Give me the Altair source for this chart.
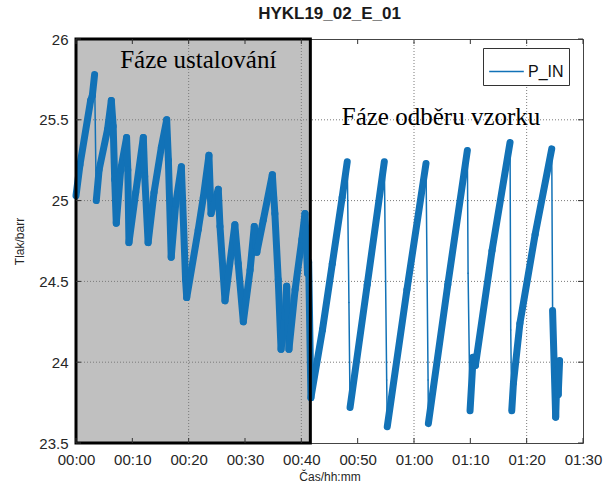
import altair as alt
import pandas as pd

# --- chart text -------------------------------------------------------------
title_text = "HYKL19_02_E_01"
series_name = "P_IN"
x_title = "Čas/hh:mm"
y_title = "Tlak/barr"

# --- P_IN pressure trace: time in minutes, pressure in barr ----------------
minutes = [
    0.0, 0.7, 2.6, 2.9, 3.3, 3.6, 4.1, 5.6, 6.27, 6.6, 6.87, 7.15,
    7.93, 8.98, 9.2, 9.4, 10.6, 11.95, 12.2, 12.8, 13.85, 15.15, 16.1,
    16.4, 16.9, 17.7, 18.7, 19.45, 19.65, 21.7, 22.6, 23.6, 23.97, 25.26,
    25.56, 26.45, 28.2, 28.8, 29.7, 30.9, 31.65, 32.1, 33.25, 34.85,
    35.3, 35.9, 36.4, 37.1, 37.4, 37.8, 38.9, 40.1, 40.65, 41.1, 41.3,
    41.7,
    43.75, 45.5, 47.25, 48.15, 48.45, 48.65,
    51.7, 54.73, 55.15, 55.25,
    58.75, 62.13, 62.5, 62.55,
    66.0, 69.47, 69.6, 69.95, 70.5, 70.9,
    73.85, 77.05, 77.17, 77.35, 77.65,
    78.8, 81.5, 84.45, 84.6, 85.15, 85.4, 85.6, 85.85,
]
pressure = [
    25.03, 25.22, 25.62, 25.65, 25.78, 25.0, 25.19, 25.44, 25.62, 25.46, 25.13, 24.86,
    25.19, 25.39, 25.19, 24.74, 25.05, 25.39, 25.15, 24.74, 25.05, 25.33, 25.50,
    25.25, 24.65, 24.98, 25.21, 24.51, 24.40, 24.82, 25.02, 25.28, 24.92, 25.07,
    24.84, 24.38, 24.85, 24.61, 24.25, 24.57, 24.84, 24.68, 24.88, 25.16,
    24.92, 24.51, 24.08, 24.28, 24.47, 24.08, 24.45, 24.76, 24.92, 24.55, 24.62,
    23.78,
    24.20, 24.61, 25.02, 25.24, 24.37, 23.72,
    24.48, 25.24, 23.89, 23.60,
    24.45, 25.23, 23.89, 23.62,
    24.48, 25.31, 24.55, 23.70, 24.03, 23.98,
    24.69, 25.36, 24.20, 23.70, 23.87,
    24.24, 24.79, 25.32, 24.32, 23.66, 23.95, 23.80, 24.01,
]

# --- axes, grid and phase annotations --------------------------------------
x_ticks = list(range(0, 91, 10))
y_ticks = [23.5, 24.0, 24.5, 25.0, 25.5, 26.0]
grid_minutes = [20, 40, 60, 80]
grid_levels = [24.0, 24.5, 25.0, 25.5]
settling_start = 0.0
settling_end = 41.6
phase_labels = ["Fáze ustalování", "Fáze odběru vzorku"]
phase_label_minutes = [21.7, 64.8]
phase_label_levels = [25.87, 25.52]

W, H = 507, 404
BLUE = "#1272B7"
SANS = "Liberation Sans"

# consecutive samples become segments; steep falls are the thin valve drops
rows = []
for i in range(len(minutes) - 1):
    t1, p1, t2, p2 = minutes[i], pressure[i], minutes[i + 1], pressure[i + 1]
    slope = (p2 - p1) / (t2 - t1)
    rows.append({
        "t": t1, "p": p1, "t2": t2, "p2": p2,
        "kind": "drop" if slope < -2.4 else "band",
        "series": series_name,
    })
segments = pd.DataFrame(rows)

x_scale = alt.Scale(domain=[0, 90], nice=False, zero=False)
y_scale = alt.Scale(domain=[23.5, 26], nice=False, zero=False)

settle = pd.DataFrame({
    "t": [settling_start], "t2": [settling_end],
    "p": [y_ticks[0]], "p2": [y_ticks[-1]],
})

time_label = (
    "(floor(datum.value/60) < 10 ? '0' : '') + floor(datum.value/60) + ':' + "
    "(datum.value % 60 < 10 ? '0' : '') + (datum.value % 60)"
)

x_axis = alt.Axis(
    values=x_ticks, labelExpr=time_label, title=x_title,
    grid=False, domain=False, ticks=False, labelFlush=False, labelOverlap=False,
    labelFont=SANS, labelFontSize=15, labelColor="#262626", labelPadding=9,
    titleFont=SANS, titleFontSize=12, titleFontWeight="normal",
    titleColor="#262626", titlePadding=4,
)
y_axis = alt.Axis(
    values=y_ticks, format="~g", title=y_title,
    grid=False, domain=False, ticks=False, labelFlush=False, labelOverlap=False,
    labelFont=SANS, labelFontSize=15, labelColor="#262626", labelPadding=8,
    titleFont=SANS, titleFontSize=12, titleFontWeight="normal",
    titleColor="#262626", titlePadding=12,
)

shade = alt.Chart(settle).mark_rect(color="#c0c0c0").encode(
    x=alt.X("t:Q", scale=x_scale, axis=x_axis),
    x2="t2:Q",
    y=alt.Y("p:Q", scale=y_scale, axis=y_axis),
    y2="p2:Q",
)

vgrid = alt.Chart(pd.DataFrame({"t": grid_minutes})).mark_rule(
    color="#7a7a7a", strokeDash=[1, 2], strokeWidth=1
).encode(x=alt.X("t:Q", scale=x_scale, axis=x_axis))

hgrid = alt.Chart(pd.DataFrame({"p": grid_levels})).mark_rule(
    color="#7a7a7a", strokeDash=[1, 2], strokeWidth=1
).encode(y=alt.Y("p:Q", scale=y_scale, axis=y_axis))

trace = alt.Chart(segments).mark_rule(strokeCap="round").encode(
    x=alt.X("t:Q", scale=x_scale, axis=x_axis),
    x2="t2:Q",
    y=alt.Y("p:Q", scale=y_scale, axis=y_axis),
    y2="p2:Q",
    strokeWidth=alt.StrokeWidth(
        "kind:N", scale=alt.Scale(domain=["band", "drop"], range=[7, 1.5]), legend=None
    ),
    color=alt.Color("series:N", scale=alt.Scale(range=[BLUE]), legend=alt.Legend(
        title=None, orient="none", legendX=407, legendY=9,
        symbolType="stroke", symbolStrokeWidth=1.5, symbolSize=1200,
        labelFont=SANS, labelFontSize=16, labelColor="#111",
        fillColor="white", strokeColor="#333", padding=5, labelOffset=3,
    )),
)

notes = alt.Chart(pd.DataFrame({
    "label": phase_labels, "t": phase_label_minutes, "p": phase_label_levels,
})).mark_text(font="Liberation Serif", fontSize=25, color="black").encode(
    x=alt.X("t:Q", scale=x_scale, axis=x_axis),
    y=alt.Y("p:Q", scale=y_scale, axis=y_axis),
    text="label:N",
)

frame = alt.Chart(settle).mark_rect(fillOpacity=0, stroke="black", strokeWidth=3).encode(
    x=alt.X("t:Q", scale=x_scale, axis=x_axis), x2="t2:Q",
    y=alt.Y("p:Q", scale=y_scale, axis=y_axis), y2="p2:Q",
)

# inward tick marks on all four sides of the box
tick_color = "#333333"
xt = pd.DataFrame({"t": x_ticks})
yt = pd.DataFrame({"p": y_ticks})
ticks_bottom = alt.Chart(xt).mark_rule(color=tick_color).encode(
    x=alt.X("t:Q", scale=x_scale, axis=x_axis), y=alt.value(H), y2=alt.value(H - 5))
ticks_top = alt.Chart(xt).mark_rule(color=tick_color).encode(
    x=alt.X("t:Q", scale=x_scale, axis=x_axis), y=alt.value(0), y2=alt.value(5))
ticks_left = alt.Chart(yt).mark_rule(color=tick_color).encode(
    y=alt.Y("p:Q", scale=y_scale, axis=y_axis), x=alt.value(0), x2=alt.value(5))
ticks_right = alt.Chart(yt).mark_rule(color=tick_color).encode(
    y=alt.Y("p:Q", scale=y_scale, axis=y_axis), x=alt.value(W), x2=alt.value(W - 5))

chart = alt.layer(
    shade, vgrid, hgrid, trace, notes, frame,
    ticks_bottom, ticks_top, ticks_left, ticks_right,
).properties(
    width=W, height=H,
    title=alt.TitleParams(
        title_text, font=SANS, fontSize=17, fontWeight="bold",
        color="#1a1a1a", anchor="middle", offset=9,
    ),
    autosize=alt.AutoSizeParams(type="none"),
    padding={"left": 76, "top": 39, "right": 22, "bottom": 43},
    background="white",
).configure_view(stroke="#444444", strokeWidth=1)

chart.save("out.html", embed_options={"renderer": "svg", "actions": False})
